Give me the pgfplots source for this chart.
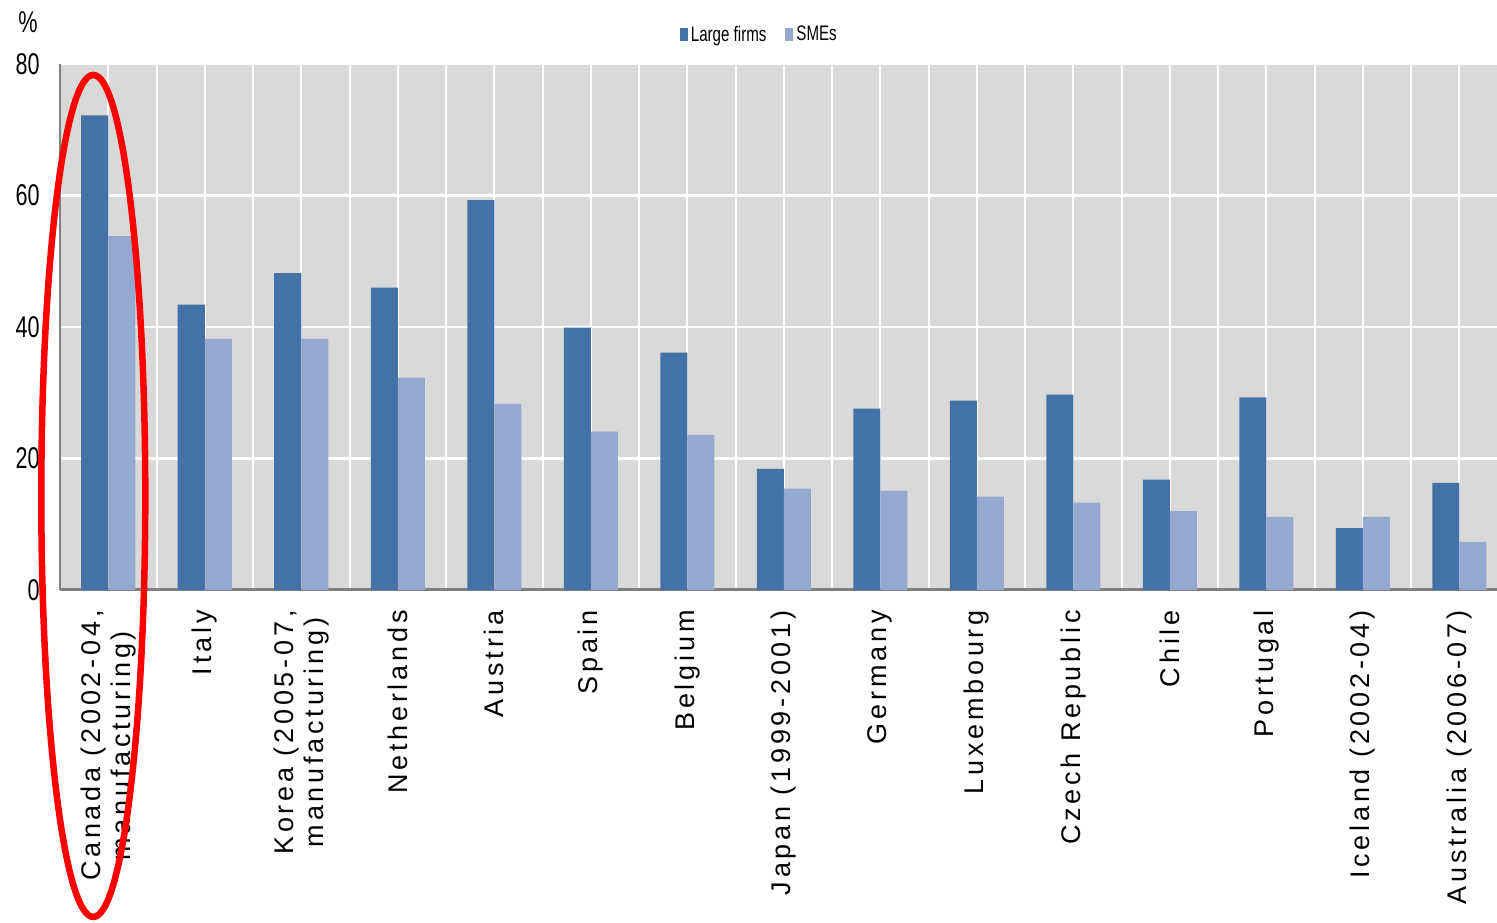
\documentclass[border=0pt]{standalone}
\usepackage{fontspec}
\setmainfont{Liberation Sans}
\newfontfamily\narrowfont[FakeStretch=0.72]{Liberation Sans}
\newfontfamily\spacedfont[LetterSpace=14]{Liberation Sans}
\usepackage{pgfplots}
\pgfplotsset{compat=1.18}
\definecolor{darkbar}{RGB}{68,114,166}
\definecolor{lightbar}{RGB}{149,169,208}
\definecolor{bggray}{RGB}{217,217,217}
\definecolor{axisgray}{RGB}{128,128,128}
\pgfplotsset{mylegend/.style={legend image code/.code={\path[##1] (0pt,-3.25pt) rectangle (4pt,3.25pt);}}}
\begin{document}
\begin{tikzpicture}
\begin{axis}[
  scale only axis, width=718.5pt, height=263pt,
  xmin=-0.5, xmax=14.39, ymin=0, ymax=80,
  clip=false,
  axis background/.style={fill=bggray},
  axis x line*=bottom, axis y line*=left,
  x axis line style={draw=axisgray, line width=1.5pt, -},
  y axis line style={draw=axisgray, line width=1pt, -},
  xtick={0,...,14},
  minor xtick={-0.5,0.5,...,14.5},
  ytick={0,20,40,60,80},
  major tick length=0pt, minor tick length=0pt,
  tick style={draw=none},
  xmajorgrids, xminorgrids, ymajorgrids,
  x grid style={white, line width=1pt},
  minor x grid style={white, line width=1pt},
  y grid style={white, line width=1.25pt},
  /pgf/number format/assume math mode=true,
  yticklabel style={font=\narrowfont\fontsize{15}{18}\selectfont, inner sep=0pt},
  yticklabel shift=10pt,
  xticklabels={{Canada (2002-04,\\manufacturing)}, Italy, {Korea (2005-07,\\manufacturing)}, Netherlands, Austria, Spain, Belgium, Japan (1999-2001), Germany, Luxembourg, Czech Republic, Chile, Portugal, Iceland (2002-04), Australia (2006-07)},
  xticklabel style={font=\spacedfont\fontsize{13.5}{15}\selectfont, align=center, rotate=90, anchor=east, inner sep=0pt},
  xticklabel shift=10pt,
  legend columns=2,
  legend style={at={(0.487,1)}, anchor=center, yshift=14.5pt, draw=none, fill=none,
    font=\narrowfont\fontsize{10.5}{12}\selectfont,
    /tikz/every even column/.append style={column sep=8pt},
    nodes={inner sep=1.5pt}},
]
\addplot[ybar, fill=darkbar, draw=none, bar width=0.28, bar shift=-0.14, mylegend]
  coordinates {(0,72.2) (1,43.4) (2,48.2) (3,46.0) (4,59.3) (5,39.9) (6,36.1) (7,18.4) (8,27.6) (9,28.8) (10,29.7) (11,16.8) (12,29.3) (13,9.4) (14,16.3)};
\addlegendentry{Large firms}
\addplot[ybar, fill=lightbar, draw=none, bar width=0.28, bar shift=0.14, mylegend]
  coordinates {(0,53.8) (1,38.2) (2,38.2) (3,32.3) (4,28.3) (5,24.1) (6,23.6) (7,15.4) (8,15.1) (9,14.2) (10,13.3) (11,12.0) (12,11.1) (13,11.1) (14,7.3)};
\addlegendentry{SMEs}
\node[font=\narrowfont\fontsize{15}{18}\selectfont] at (rel axis cs:0,1) [xshift=-16pt, yshift=21pt] {\%};
\coordinate (C) at (axis cs:-0.155,14.3);
\coordinate (BL) at (rel axis cs:0,0);
\coordinate (TR) at (rel axis cs:1,1);
\end{axis}
\draw[red, line width=3.25pt] (C) ellipse [x radius=26pt, y radius=210.5pt];
\pgfresetboundingbox
\path ([shift={(-30pt,-166.5pt)}]BL) rectangle ([shift={(0pt,32pt)}]TR);
\end{tikzpicture}
\end{document}
